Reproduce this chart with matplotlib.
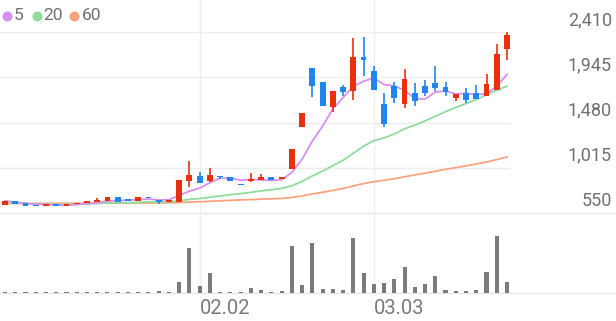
import matplotlib
matplotlib.use('Agg')
import matplotlib.pyplot as plt
from matplotlib.lines import Line2D
import matplotlib.transforms as mtransforms
import numpy as np
import pandas as pd

# ---------------- data ----------------
opens = [632, 676, 650, 632, 622, 639, 625, 639, 653, 666,
         673, 711, 694, 673, 717, 684, 666, 666, 879, 933,
         882, 933, 917, 848, 879, 886, 923, 896, 1005, 1437,
         2043, 1893, 1636, 1842, 1801, 2153, 2009, 1667, 1855, 1673,
         1788, 1855, 1889, 1848, 1732, 1786, 1780, 1749, 1814, 2232]
highs = [673, 676, 650, 632, 639, 639, 639, 656, 673, 707,
         714, 711, 694, 714, 717, 684, 680, 889, 1084, 971,
         1012, 933, 917, 848, 964, 951, 923, 920, 1211, 1575,
         2043, 1893, 1807, 1862, 2345, 2356, 2064, 1780, 1893, 2030,
         1883, 1914, 2061, 1899, 1776, 1831, 1865, 1981, 2290, 2410]
lows = [632, 646, 622, 622, 622, 625, 625, 639, 653, 666,
        673, 666, 670, 673, 701, 646, 666, 666, 814, 855,
        872, 902, 882, 835, 869, 886, 886, 896, 1005, 1437,
        1745, 1650, 1585, 1752, 1708, 1961, 1817, 1437, 1683, 1632,
        1647, 1752, 1807, 1755, 1701, 1683, 1721, 1749, 1814, 2125]
closes = [673, 646, 622, 622, 639, 625, 639, 656, 673, 684,
          714, 666, 670, 714, 701, 666, 680, 889, 937, 855,
          944, 917, 882, 835, 896, 923, 886, 920, 1211, 1575,
          1855, 1650, 1807, 1796, 2150, 2119, 1817, 1465, 1729, 1927,
          1696, 1780, 1831, 1790, 1776, 1714, 1721, 1876, 2181, 2379]
volumes = [32, 32, 28, 24, 24, 24, 28, 32, 40, 48,
           40, 32, 28, 60, 40, 100, 60, 440, 1800, 280,
           800, 40, 40, 40, 200, 140, 60, 100, 1880, 320,
           2000, 176, 160, 120, 2216, 800, 348, 388, 576, 1040,
           240, 348, 680, 120, 80, 100, 140, 856, 2296, 440]
ma60 = [648, 648, 648, 648, 649, 649, 650, 650, 651, 651,
        652, 652, 653, 653, 653, 654, 654, 657, 662, 666,
        670, 675, 680, 684, 688, 692, 696, 700, 710, 726,
        746, 763, 782, 802, 828, 852, 872, 886, 902, 922,
        941, 959, 979, 998, 1017, 1035, 1054, 1074, 1099, 1126]
price_ticks = [550, 1015, 1480, 1945, 2410]
date_idx = [19, 36]
date_text = ['02.02', '03.03']
ma_names = ['5', '20', '60']

# ---------------- style ----------------
RED = '#e8300e'
BLUE = '#1f86f0'
VOLC = '#7b7b7b'
MA_COLORS = ['#d690f0', '#8fdc9e', '#f9a47f']
GRID = '#eeeeee'
TXT = '#707070'
plt.rcParams['font.family'] = ['Roboto', 'DejaVu Sans']

W, H = 616, 321
fig = plt.figure(figsize=(W / 100, H / 100), dpi=100)


def rect(x0, y0, x1, y1):
    return [x0 / W, 1 - y1 / H, (x1 - x0) / W, (y1 - y0) / H]


PX0, PX1 = 0, 511
PY0, PY1 = 32, 213
VY0, VY1 = 220, 293
axp = fig.add_axes(rect(PX0, PY0, PX1, PY1))
axv = fig.add_axes(rect(PX0, VY0, PX1, VY1), sharex=axp)

n = len(closes)
x = np.arange(n)
step = 10.245
first = 5
axp.set_xlim(-(first - PX0) / step, (PX1 - first) / step)
axp.set_ylim(price_ticks[0], price_ticks[-1])
vmax = max(volumes)
axv.set_ylim(0, vmax * (VY1 - VY0) / 57.4)

for ax in (axp, axv):
    ax.set_axis_off()

# gridlines
for t in price_ticks[1:]:
    axp.axhline(t, color=GRID, lw=1, zorder=0)
axp.plot([0, W / (PX1 - PX0)], [price_ticks[0]] * 2, color='#e6e6e6', lw=1,
         transform=axp.get_yaxis_transform(), clip_on=False, zorder=0)
axv.plot([0, W / (PX1 - PX0)], [0, 0], color='#e6e6e6', lw=1,
         transform=axv.get_yaxis_transform(), clip_on=False, zorder=0)
ph = PY1 - PY0
for di in date_idx:
    axp.plot([di, di], [(PY1 - 0) / ph, (PY1 - VY1) / ph], color=GRID, lw=1,
             transform=axp.get_xaxis_transform(), clip_on=False, zorder=0)

# moving averages
cs = pd.Series(closes, dtype=float)
ma5 = cs.rolling(5, min_periods=1).mean()
ma20 = cs.rolling(20, min_periods=1).mean()
axp.plot(x, ma60, color=MA_COLORS[2], lw=1.3, zorder=2, clip_on=False)
axp.plot(x, ma20, color=MA_COLORS[1], lw=1.3, zorder=2, clip_on=False)
axp.plot(x, ma5, color=MA_COLORS[0], lw=1.3, zorder=2, clip_on=False)

# candles
o = np.array(opens, float)
c = np.array(closes, float)
hi = np.array(highs, float)
lo = np.array(lows, float)
up = c >= o
cols = np.where(up, RED, BLUE)
axp.vlines(x, lo, hi, colors=cols, lw=1.2, zorder=3, clip_on=False)
body_bot = np.minimum(o, c)
body_h = np.maximum(np.abs(c - o), 14)
axp.bar(x, body_h, bottom=body_bot, width=0.57, color=cols, lw=0, zorder=4,
        clip_on=False)

# volume
axv.bar(x, volumes, width=0.4, color=VOLC, lw=0, zorder=3)

# price labels (right side, above gridlines)
for t in price_ticks:
    tr = mtransforms.offset_copy(axp.get_yaxis_transform(), fig=fig, y=12,
                                 units='dots')
    axp.text(612 / (PX1 - PX0), t, f'{t:,}', transform=tr, ha='right',
             va='center', fontsize=13, color=TXT, clip_on=False)

# date labels
for di, lab in zip(date_idx, date_text):
    axv.text(di, (VY1 - 309) / (VY1 - VY0), lab,
             transform=axv.get_xaxis_transform(), ha='left', va='center',
             fontsize=14.5, color='#7a7a7a', clip_on=False)

# legend
dot_x = [7, 37, 74]
txt_x = [14, 43, 82]
ly = 15.7
for dx, tx, name, col in zip(dot_x, txt_x, ma_names, MA_COLORS):
    fig.add_artist(Line2D([dx / W], [1 - ly / H], marker='o', markersize=6.2,
                          color=col, lw=0, transform=fig.transFigure))
    fig.text(tx / W, 1 - ly / H, name, ha='left', va='center', fontsize=12.5,
             color=TXT)

fig.savefig('out.png', dpi=100, facecolor='white')
